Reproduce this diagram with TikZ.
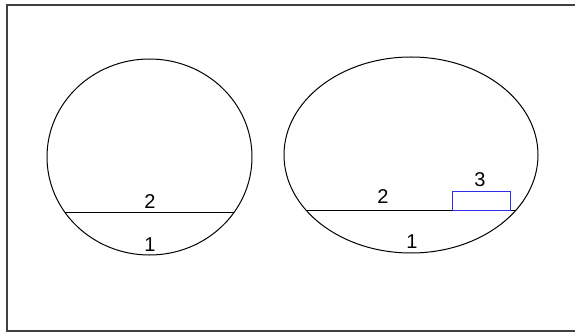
\documentclass[tikz,border=0pt]{standalone}
\usepackage{fontspec}
\setmainfont{Liberation Sans}
\usepackage{tikz}
\definecolor{boxblue}{RGB}{45,45,235}
\tikzset{
    lab/.style={inner sep=0pt, font=\fontsize{20}{20}\selectfont},
    outline/.style={line width=1pt, black}
}

\begin{document}
\begin{tikzpicture}[x=1pt, y=1pt]
    \useasboundingbox (0,0) rectangle (575,332);
    \clip (0,0) rectangle (575,332);
    %cornice
    \draw[line width=2pt, black!75] (7,1) rectangle (590,327);
    %sezione circolare
    \draw[outline] (149.5,175) ellipse [x radius=102.5, y radius=98];
    \coordinate (cA) at (65.2,119.3);
    \coordinate (cB) at (233.8,119.3);
    \draw[outline] (cA) -- (cB);
    \node[lab] (l2) at (150,130.5) {2};
    \node[lab] (l1) at (150,87) {1};
    %sezione ellittica
    \draw[outline] (411,177) ellipse [x radius=127, y radius=98];
    \coordinate (eA) at (307,121);
    \coordinate (eB) at (515,121);
    \draw[outline] (eA) -- (eB);
    %riquadro blu
    \draw[line width=1pt, boxblue] (452.3,121) rectangle (510.7,140.3);
    \node[lab] (r2) at (383,135) {2};
    \node[lab] (r3) at (480,152) {3};
    \node[lab] (r1) at (412,90) {1};
\end{tikzpicture}
\end{document}
